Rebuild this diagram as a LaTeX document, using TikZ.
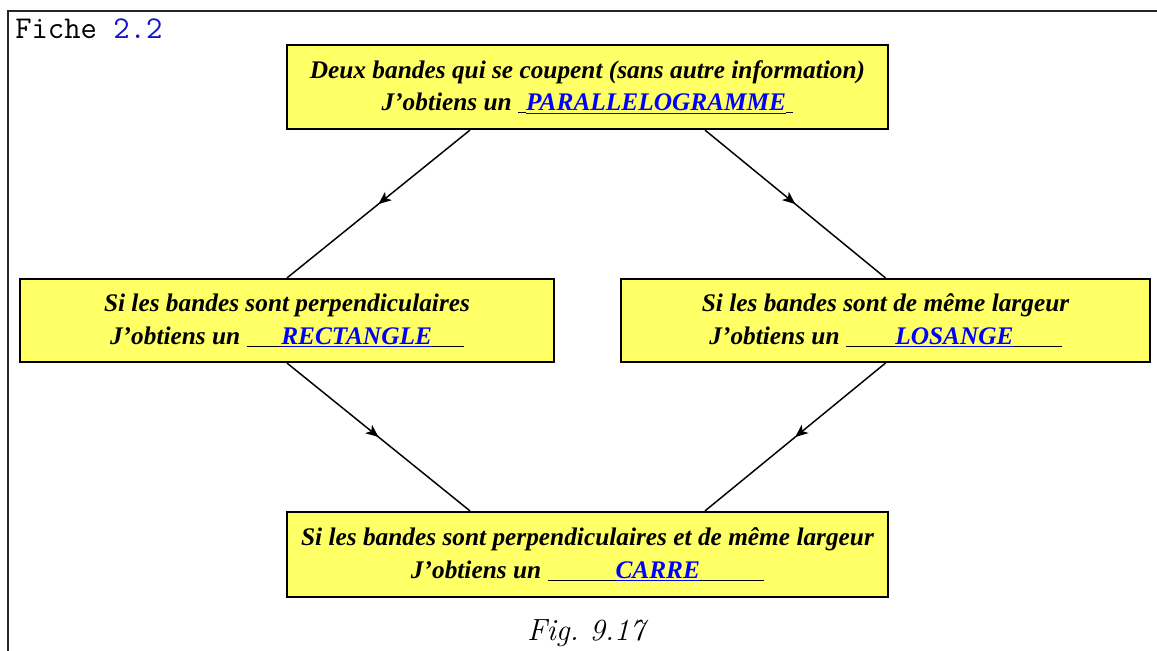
\documentclass[tikz,border=0pt]{standalone}
\usepackage{fontspec}
\usetikzlibrary{arrows.meta,decorations.markings}
\newfontfamily\boxfont{Liberation Serif}
\definecolor{boxyellow}{RGB}{255,255,102}
\definecolor{ansblue}{RGB}{0,0,255}
\definecolor{refblue}{RGB}{20,20,200}
\newcommand\blankans[3]{\underline{\hspace{#1}}\textcolor{ansblue}{\underline{#2}}\underline{\hspace{#3}}}
\begin{document}
\begin{tikzpicture}[x=0.75pt,y=-0.75pt,
  ybox/.style={draw=black,line width=1.6pt,fill=boxyellow,align=center,
    inner sep=0pt,
    font=\boxfont\bfseries\itshape\fontsize{19}{24.5}\selectfont},
  conn/.style={line width=1.1pt,
    postaction={decorate},
    decoration={markings,mark=at position 0.5 with {\arrow{Stealth[length=9.5pt,width=8pt,inset=2.5pt]}}}}
  ]
\useasboundingbox (0,0) rectangle (1157,650);
% frame
\draw[line width=1.5pt,black!85] (7.5,660) -- (7.5,10.5) -- (1170,10.5);
\node[anchor=base west,inner sep=0pt,font=\ttfamily\fontsize{23.8}{28}\selectfont] (fiche) at (15,38) {Fiche \textcolor{refblue}{2.2}};

\node[ybox,minimum width=450.75pt,minimum height=63pt] (top) at (587.5,87)
  {Deux bandes qui se coupent (sans autre information)\\
   J’obtiens un \blankans{6pt}{PARALLELOGRAMME}{5.5pt}};
\node[ybox,minimum width=400.5pt,minimum height=62.25pt] (left) at (287,320.5)
  {Si les bandes sont perpendiculaires\\
   J’obtiens un \blankans{26pt}{RECTANGLE}{24pt}};
\node[ybox,minimum width=396.75pt,minimum height=62.25pt] (right) at (885.5,320.5)
  {Si les bandes sont de même largeur\\
   J’obtiens un \blankans{37pt}{LOSANGE}{36pt}};
\node[ybox,minimum width=450.75pt,minimum height=63.75pt] (bottom) at (587.5,554.5)
  {Si les bandes sont perpendiculaires et de même largeur\\
   J’obtiens un \blankans{51pt}{CARRE}{48pt}};

\node[font=\itshape\fontsize{23}{28}\selectfont,anchor=base,inner sep=0pt] (cap) at (586,640) {Fig.~9.17};

\draw[conn] ([xshift=-88.1pt]top.south) -- (left.north);
\draw[conn] ([xshift=88.1pt]top.south) -- (right.north);
\draw[conn] (left.south) -- ([xshift=-88.1pt]bottom.north);
\draw[conn] (right.south) -- ([xshift=88.1pt]bottom.north);
\end{tikzpicture}
\end{document}
